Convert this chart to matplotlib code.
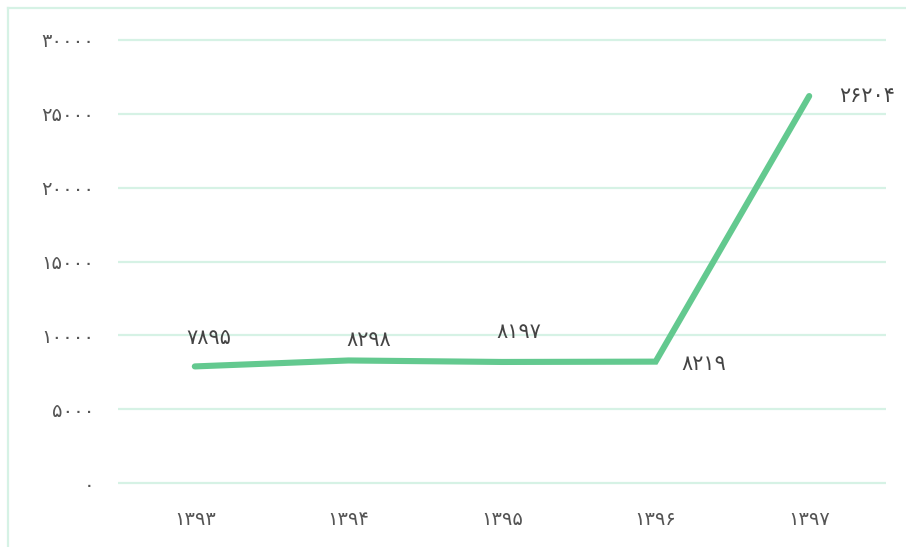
import matplotlib
matplotlib.use('Agg')
import matplotlib.pyplot as plt
from matplotlib.lines import Line2D

years = ['۱۳۹۳', '۱۳۹۴', '۱۳۹۵', '۱۳۹۶', '۱۳۹۷']
values = [7895, 8298, 8197, 8219, 26204]
y_ticks = [0, 5000, 10000, 15000, 20000, 25000, 30000]

# offsets (pixels) of each value label from its point
label_offsets = [(14, 28), (20, 20), (17, 30), (48, -2), (58, 0)]

def fa(n):
    return str(n).translate(str.maketrans('0123456789', '۰۱۲۳۴۵۶۷۸۹'))

plt.rcParams['font.family'] = ['DejaVu Sans']

W, H = 906, 547
fig = plt.figure(figsize=(W / 100, H / 100), dpi=100)
ax = fig.add_axes([118 / W, (H - 485) / H, 768 / W, 447 / H])

line_color = '#63c98f'
grid_color = '#d6f2e5'
text_color = '#555555'

x = list(range(len(years)))
ax.plot(x, values, color=line_color, lw=4.4, solid_capstyle='round',
        solid_joinstyle='miter', zorder=3)

for xi, v, (dx, dy) in zip(x, values, label_offsets):
    ax.annotate(fa(v), (xi, v), xytext=(dx, dy), textcoords='offset pixels',
                ha='center', va='center', fontsize=15, color='#444444')

ax.set_xlim(-0.5, 4.5)
ax.set_ylim(-135, 30135)
ax.set_xticks(x)
ax.set_xticklabels(years)
ax.set_yticks(y_ticks)
ax.set_yticklabels([fa(t) for t in y_ticks])
ax.tick_params(length=0, labelsize=14, labelcolor=text_color)
ax.tick_params(axis='y', pad=17)
ax.tick_params(axis='x', pad=18)
ax.grid(axis='y', color=grid_color, lw=1.6)
ax.set_axisbelow(True)
for s in ax.spines.values():
    s.set_visible(False)

# thin frame along the left and top edge
fig.add_artist(Line2D([8 / W, 8 / W], [0, 1 - 8 / H], color=grid_color, lw=1.6))
fig.add_artist(Line2D([8 / W, 1], [1 - 8 / H, 1 - 8 / H], color=grid_color, lw=1.6))

fig.savefig('out.png', dpi=100, facecolor='white')
